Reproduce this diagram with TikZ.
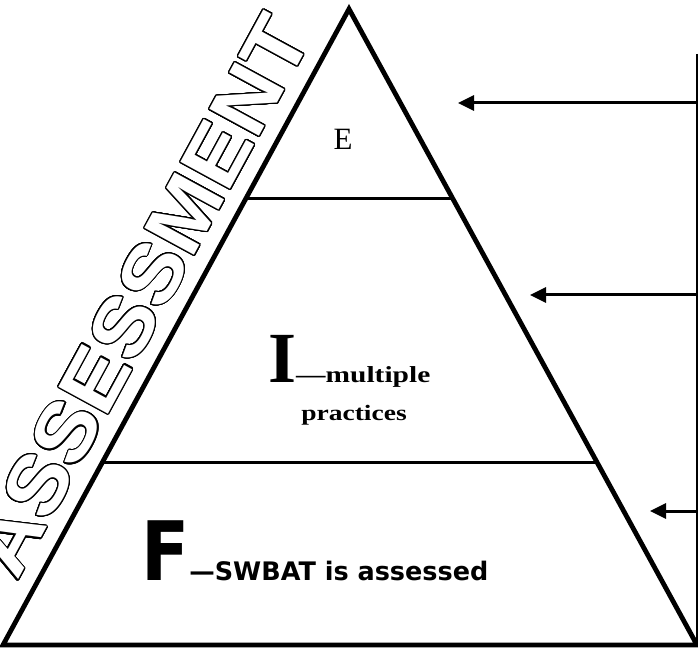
\documentclass[tikz,border=0pt]{standalone}
\usepackage{fontspec}
\setmainfont{Liberation Serif}
\newfontfamily\arialbold{Liberation Sans Bold}
\newfontfamily\comicfont{DejaVu Sans}
\usepackage{contour}
\contourlength{1.1pt}
\contournumber{32}
\usetikzlibrary{arrows.meta,calc}
\begin{document}
\begin{tikzpicture}[x=1pt,y=1pt,
  edge/.style={line width=4.8pt, line join=miter},
  divider/.style={line width=3pt},
  pointer/.style={line width=3pt, -{Triangle[length=16pt,width=15pt]}},
  rule/.style={line width=1.5pt},
  txt/.style={inner sep=0pt}]
\useasboundingbox (0,0) rectangle (698,654);
\coordinate (apex) at (349,645);
\coordinate (bl) at (3,9);
\coordinate (br) at (697,9);
\draw[edge] (bl) -- (apex) -- (br) -- cycle;
\coordinate (d1l) at ($(bl)!0.7013!(apex)$);
\coordinate (d1r) at ($(br)!0.7013!(apex)$);
\coordinate (d2l) at ($(bl)!0.2862!(apex)$);
\coordinate (d2r) at ($(br)!0.2862!(apex)$);
\draw[divider] (d1l) -- (d1r);
\draw[divider] (d2l) -- (d2r);
\coordinate (rtop) at (697,600);
\coordinate (rbot) at (697,9);
\draw[rule] (rtop) -- (rbot);
\coordinate (a1s) at (698,551);
\coordinate (a1e) at (458,551);
\coordinate (a2s) at (698,359);
\coordinate (a2e) at (530,359);
\coordinate (a3s) at (698,143);
\coordinate (a3e) at (650,143);
\draw[pointer] (a1s) -- (a1e);
\draw[pointer] (a2s) -- (a2e);
\draw[pointer] (a3s) -- (a3e);
\node[txt] (e) at (343,515) {\fontsize{31}{31}\selectfont E};
\node[txt, anchor=base west] (i) at (268,272) {\bfseries\fontsize{72}{72}\selectfont I\scalebox{1.28}[1]{\fontsize{23}{23}\selectfont —multiple}};
\node[txt, anchor=base] (pr) at (354,234) {\bfseries\scalebox{1.25}[1]{\fontsize{22}{22}\selectfont practices}};
\node[txt, anchor=base west] (f) at (141,74) {\comicfont\bfseries\scalebox{0.86}[1]{\fontsize{82}{82}\selectfont F}{\fontsize{25.5}{25.5}\selectfont —SWBAT is assessed}};
\node[txt, rotate=61.46, anchor=base] (title) at (165.5,345) {\arialbold\fontsize{82}{82}\selectfont\scalebox{1.1}[1]{\contour{black}{\textcolor{white}{ASSESSMENT}}}};
\end{tikzpicture}
\end{document}
